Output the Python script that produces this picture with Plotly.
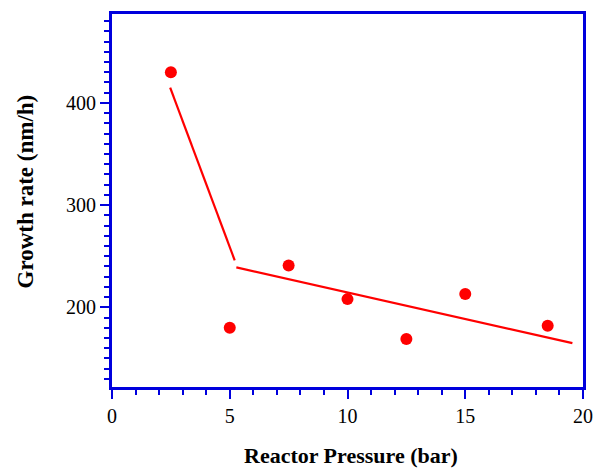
import plotly.graph_objects as go

pressure = [2.5, 5, 7.5, 10, 12.5, 15, 18.5]
growth = [430, 180, 241, 208, 169, 213, 182]

fit1_x = [2.47, 5.21]
fit1_y = [415, 246]
fit2_x = [5.28, 19.55]
fit2_y = [239, 165]

x_ticks = [0, 5, 10, 15, 20]
y_ticks = [200, 300, 400]

x_title = "Reactor Pressure (bar)"
y_title = "Growth rate (nm/h)"

red = "#ff0000"
blue = "#0000dd"

fig = go.Figure()
fig.add_trace(go.Scatter(x=fit1_x, y=fit1_y, mode="lines",
                         line=dict(color=red, width=2.2), showlegend=False))
fig.add_trace(go.Scatter(x=fit2_x, y=fit2_y, mode="lines",
                         line=dict(color=red, width=2.2), showlegend=False))
fig.add_trace(go.Scatter(x=pressure, y=growth, mode="markers",
                         marker=dict(color=red, size=12), showlegend=False))

font_family = "Liberation Serif"
L, R, T, B = 112, 10, 14, 81
fig.update_layout(
    width=593, height=468,
    margin=dict(l=L, r=R, t=T, b=B, autoexpand=False),
    plot_bgcolor="white", paper_bgcolor="white",
    font=dict(family=font_family, size=20, color="black"),
)
fig.update_xaxes(
    range=[0, 20], tickvals=x_ticks, ticktext=[str(v) for v in x_ticks],
    showgrid=False, zeroline=False, automargin=False,
    showline=True, linecolor=blue, linewidth=3, mirror=True,
    ticks="outside", ticklen=9, tickwidth=2, tickcolor=blue,
    minor=dict(dtick=1, ticks="outside", ticklen=5, tickwidth=2, tickcolor=blue, showgrid=False),
    tickfont=dict(size=20),
)
fig.update_yaxes(
    range=[122, 487], tickvals=y_ticks, ticktext=[str(v) for v in y_ticks],
    showgrid=False, zeroline=False, automargin=False,
    showline=True, linecolor=blue, linewidth=3, mirror=True,
    ticks="outside", ticklen=9, tickwidth=2, tickcolor=blue,
    minor=dict(dtick=10, tick0=0, ticks="outside", ticklen=5, tickwidth=2, tickcolor=blue, showgrid=False),
    tickfont=dict(size=20),
)
fig.add_annotation(text="<b>" + x_title + "</b>", xref="paper", yref="paper",
                   x=0.5, y=0, xanchor="center", yanchor="middle",
                   xshift=3, yshift=-68, showarrow=False, font=dict(size=22))
fig.add_annotation(text="<b>" + y_title + "</b>", xref="paper", yref="paper",
                   x=0, y=0.5, xanchor="center", yanchor="middle", textangle=-90,
                   xshift=-87, yshift=9, showarrow=False, font=dict(size=23))

fig.write_html("out.html")
